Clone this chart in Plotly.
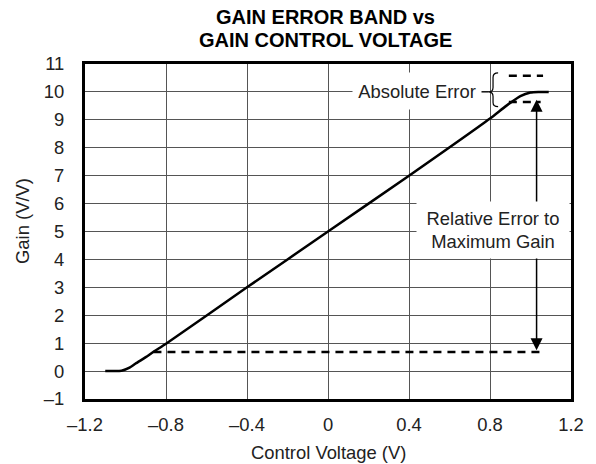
import plotly.graph_objects as go

# ---- data ----
control_v = [-1.10, -1.06, -1.02, -0.98, -0.95, -0.90, -0.86, -0.80, -0.40, 0.0, 0.40, 0.80, 0.88, 0.95, 1.00, 1.04, 1.09]
gain = [0.0, 0.0, 0.01, 0.12, 0.27, 0.50, 0.70, 0.98, 3.0, 5.0, 7.0, 9.05, 9.50, 9.85, 9.98, 10.0, 10.0]

abs_err_v = [0.893, 1.062]
abs_err_upper = [10.58, 10.58]
abs_err_lower_v = [0.893, 1.05]
abs_err_lower = [9.64, 9.64]
rel_err_v = [-0.862, 1.072]
rel_err_gain = [0.68, 0.68]

x_ticks = [-1.2, -0.8, -0.4, 0, 0.4, 0.8, 1.2]
x_ticktext = ["–1.2", "–0.8", "–0.4", "0", "0.4", "0.8", "1.2"]
y_ticks = list(range(-1, 12))
y_ticktext = ["–1" if v == -1 else str(v) for v in y_ticks]

FONT = "Liberation Sans, Arial, sans-serif"
TXT = 18.4

fig = go.Figure()
fig.add_trace(go.Scatter(x=control_v, y=gain, mode="lines",
                         line=dict(color="black", width=2.5, shape="spline", smoothing=0.6),
                         hoverinfo="skip", showlegend=False))
for xs, ys in [(abs_err_v, abs_err_upper), (abs_err_lower_v, abs_err_lower), (rel_err_v, rel_err_gain)]:
    fig.add_trace(go.Scatter(x=xs, y=ys, mode="lines",
                             line=dict(color="black", width=2.5, dash="8px,6px"),
                             hoverinfo="skip", showlegend=False))

arrow_x = 1.03
annotations = [
    dict(x=arrow_x, y=9.72, ax=arrow_x, ay=5.0, xref="x", yref="y", axref="x", ayref="y",
         text="", showarrow=True, arrowhead=2, arrowsize=1.6, arrowwidth=1.5, arrowcolor="black"),
    dict(x=arrow_x, y=0.75, ax=arrow_x, ay=5.0, xref="x", yref="y", axref="x", ayref="y",
         text="", showarrow=True, arrowhead=2, arrowsize=1.6, arrowwidth=1.5, arrowcolor="black"),
    dict(x=0.815, y=5.05, xref="x", yref="y", text="Relative Error to<br>Maximum Gain",
         showarrow=False, bgcolor="white", width=150, height=54,
         font=dict(family=FONT, size=TXT, color="#222")),
    dict(x=0.441, y=10.02, xref="x", yref="y", text="Absolute Error",
         showarrow=False, bgcolor="white", width=126, height=34,
         font=dict(family=FONT, size=TXT, color="#222")),
    dict(x=0.494, y=1.1403, xref="paper", yref="paper", text="<b>GAIN ERROR BAND vs</b>",
         xanchor="center", yanchor="middle", showarrow=False,
         font=dict(family=FONT, size=20, color="black")),
    dict(x=0.494, y=1.0716, xref="paper", yref="paper", text="<b>GAIN CONTROL VOLTAGE</b>",
         xanchor="center", yanchor="middle", showarrow=False,
         font=dict(family=FONT, size=20, color="black")),
    dict(x=0.5, y=-0.161, xref="paper", yref="paper", text="Control Voltage (V)",
         xanchor="center", yanchor="middle", showarrow=False,
         font=dict(family=FONT, size=TXT, color="#222")),
    dict(x=-0.130, y=0.531, xref="paper", yref="paper", text="Gain (V/V)", textangle=-90,
         xanchor="center", yanchor="middle", showarrow=False,
         font=dict(family=FONT, size=TXT, color="#222")),
]

shapes = [
    dict(type="line", xref="x", yref="y", x0=0.749, x1=0.792, y0=10.0, y1=10.0,
         line=dict(color="black", width=1.2)),
    dict(type="path", xref="x", yref="y",
         path="M 0.84,10.68 Q 0.815,10.68 0.815,10.52 L 0.815,10.16 Q 0.815,10.0 0.792,10.0 "
              "Q 0.815,10.0 0.815,9.84 L 0.815,9.62 Q 0.815,9.47 0.84,9.47",
         line=dict(color="black", width=1.2)),
]

fig.update_layout(
    width=596, height=464,
    margin=dict(l=85, r=15, t=64, b=65),
    paper_bgcolor="white", plot_bgcolor="white",
    showlegend=False,
    annotations=annotations, shapes=shapes,
    font=dict(family=FONT, size=TXT, color="#222"),
    xaxis=dict(range=[-1.2, 1.2], tickvals=x_ticks, ticktext=x_ticktext,
               showgrid=True, gridcolor="#555", gridwidth=1, zeroline=False,
               showline=True, linecolor="black", linewidth=3, mirror=True,
               ticks="", ticklabelstandoff=7, fixedrange=True),
    yaxis=dict(range=[-1, 11], tickvals=y_ticks, ticktext=y_ticktext,
               showgrid=True, gridcolor="#555", gridwidth=1, zeroline=False,
               showline=True, linecolor="black", linewidth=3, mirror=True,
               ticks="", ticklabelstandoff=14, fixedrange=True),
)

fig.write_html("out.html", config={"displayModeBar": False},
               post_script="document.body.style.margin='0';")
